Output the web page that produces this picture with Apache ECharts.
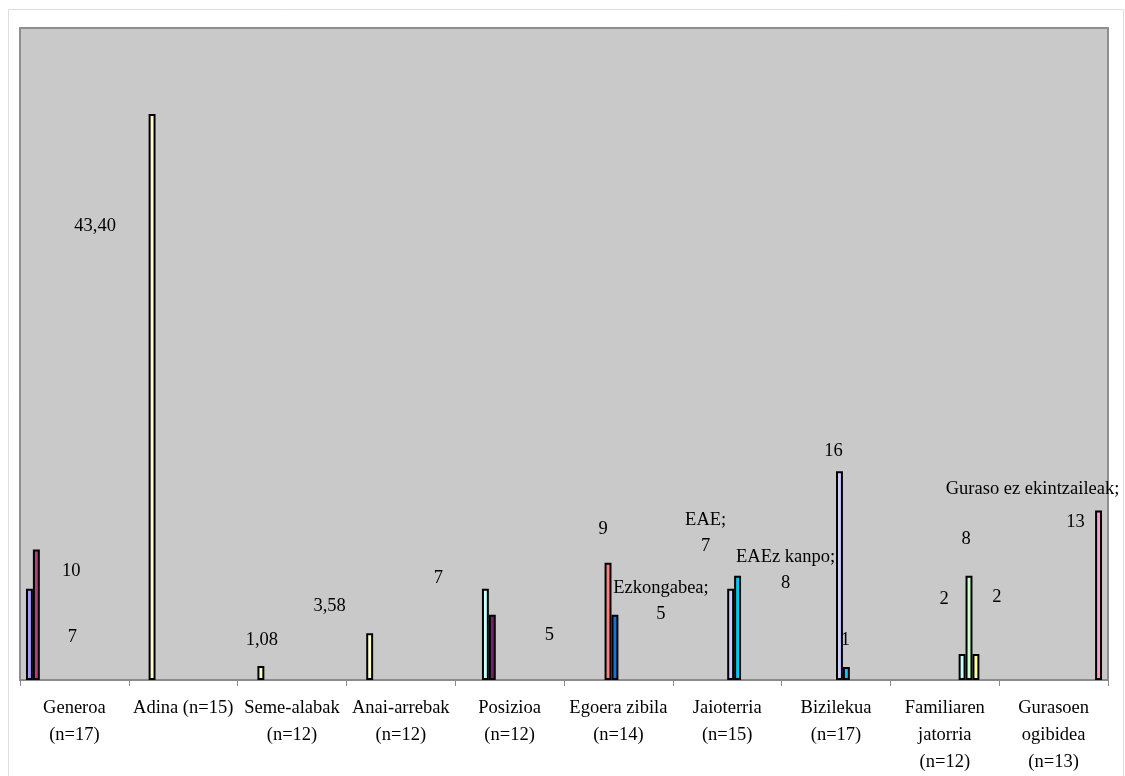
<!DOCTYPE html>
<html>
<head>
<meta charset="utf-8">
<script src="https://cdn.jsdelivr.net/npm/echarts@6/dist/echarts.min.js"></script>
<style>
  html, body { margin: 0; padding: 0; background: #fff; }
  #chart { width: 1125px; height: 776px; }
</style>
</head>
<body>
<div id="chart"></div>
<script>
// Categories along the x axis
const categories = [
  'Generoa\n(n=17)', 'Adina (n=15)', 'Seme-alabak\n(n=12)', 'Anai-arrebak\n(n=12)',
  'Posizioa\n(n=12)', 'Egoera zibila\n(n=14)', 'Jaioterria\n(n=15)', 'Bizilekua\n(n=17)',
  'Familiaren\njatorria\n(n=12)', 'Gurasoen\nogibidea\n(n=13)'
];

// One array per series; null where the series has no value in a category
const generoa1      = [7, null, null, null, null, null, null, null, null, null];
const generoa2      = [10, null, null, null, null, null, null, null, null, null];
const batezbestekoa = [null, 43.40, 1.08, 3.58, null, null, null, null, null, null];
const posizioa1     = [null, null, null, null, 7, null, null, null, null, null];
const posizioa2     = [null, null, null, null, 5, null, null, null, null, null];
const ezkondua      = [null, null, null, null, null, 9, null, null, null, null];
const ezkongabea    = [null, null, null, null, null, 5, null, null, null, null];
const eae           = [null, null, null, null, null, null, 7, 16, null, null];
const eaezKanpo     = [null, null, null, null, null, null, 8, 1, null, null];
const jatorria1     = [null, null, null, null, null, null, null, null, 2, null];
const jatorria2     = [null, null, null, null, null, null, null, null, 8, null];
const jatorria3     = [null, null, null, null, null, null, null, null, 2, null];
const gurasoEkintz  = [null, null, null, null, null, null, null, null, null, null];
const gurasoEzEkintz= [null, null, null, null, null, null, null, null, null, 13];

const FONT = '"Liberation Serif", "DejaVu Serif", serif';
const FS = 18.5;

// value formatting with comma decimals
const fmtInt = v => String(v);
const fmtDec = v => v.toFixed(2).replace('.', ',');

// Series definitions: data, fill colour, label text builder and label offsets per category
const seriesDefs = [
  { name: 'Generoa 1', data: generoa1, color: '#A29EF6', fmt: fmtInt, offsets: { 0: [43, 58] } },
  { name: 'Generoa 2', data: generoa2, color: '#B63C7A', fmt: fmtInt, offsets: { 0: [35, 32] } },
  { name: 'Batezbestekoa', data: batezbestekoa, color: '#FFFFCC', fmt: fmtDec,
    offsets: { 1: [-57, 122], 2: [1, -16], 3: [-40, -17] } },
  { name: 'Posizioa 1', data: posizioa1, color: '#CCFFFF', fmt: fmtInt, offsets: { 4: [-47, -1] } },
  { name: 'Posizioa 2', data: posizioa2, color: '#7C1A78', fmt: fmtInt, offsets: { 4: [57, 30] } },
  { name: 'Ezkondua', data: ezkondua, color: '#FF8080', fmt: fmtInt, offsets: { 5: [-5, -23] } },
  { name: 'Ezkongabea', data: ezkongabea, color: '#1A72D4', withName: true, lineHeight: 26,
    fmt: fmtInt, offsets: { 5: [46, 12] } },
  { name: 'EAE', data: eae, color: '#CCCCFF', fmt: fmtInt, lineHeight: 26,
    withNameAt: [6], offsets: { 6: [-25, -30], 7: [-6, -10] } },
  { name: 'EAEz kanpo', data: eaezKanpo, color: '#00C8F0', fmt: fmtInt, lineHeight: 26,
    withNameAt: [6], offsets: { 6: [48, 20], 7: [-1, -17] } },
  { name: 'Jatorria 1', data: jatorria1, color: '#CCFFFF', fmt: fmtInt, offsets: { 8: [-18, -45] } },
  { name: 'Jatorria 2', data: jatorria2, color: '#CCFFCC', fmt: fmtInt, offsets: { 8: [-3, -27] } },
  { name: 'Jatorria 3', data: jatorria3, color: '#FFFF99', fmt: fmtInt, offsets: { 8: [21, -47] } },
  { name: 'Guraso ekintzaileak', data: gurasoEkintz, color: '#99CCFF', fmt: fmtInt, offsets: {} },
  { name: 'Guraso ez ekintzaileak', data: gurasoEzEkintz, color: '#FF99CC', fmt: fmtInt,
    special: true, offsets: { 9: [-66, 28] } }
];

const series = seriesDefs.map(def => ({
  name: def.name,
  type: 'bar',
  barGap: '0%',
  barCategoryGap: '11%',
  itemStyle: { color: def.color, borderColor: '#000', borderWidth: 2 },
  emphasis: { disabled: true },
  data: def.data.map((v, i) => {
    if (v === null) return null;
    const off = def.offsets[i] || [0, 0];
    const showName = def.withName || (def.withNameAt && def.withNameAt.includes(i));
    const label = {
      show: true,
      position: 'top',
      distance: 0,
      offset: off,
      color: '#000',
      fontFamily: FONT,
      fontSize: FS,
      lineHeight: showName ? (def.lineHeight || 26) : 20
    };
    if (def.special) {
      label.formatter = '{a|' + def.name + ';}\n{b|' + def.fmt(v) + '}';
      label.lineHeight = 33;
      label.rich = {
        a: { fontFamily: FONT, fontSize: FS, color: '#000', lineHeight: 33 },
        b: { fontFamily: FONT, fontSize: FS, color: '#000', lineHeight: 33, padding: [0, 0, 0, 86] }
      };
    } else if (showName) {
      label.formatter = def.name + ';\n' + def.fmt(v);
    } else {
      label.formatter = def.fmt(v);
    }
    return { value: v, label };
  })
}));

const chart = echarts.init(document.getElementById('chart'), null, { renderer: 'canvas' });
chart.setOption({
  animation: false,
  backgroundColor: '#ffffff',
  graphic: [{
    type: 'rect',
    shape: { x: 8.5, y: 9.5, width: 1115, height: 790 },
    style: { fill: 'none', stroke: '#DDDDDD', lineWidth: 1 },
    z: -10
  }],
  grid: {
    left: 20, right: 17, top: 28, bottom: 96,
    show: true,
    backgroundColor: '#C9C9C9',
    borderColor: '#8E8E8E',
    borderWidth: 2
  },
  xAxis: {
    type: 'category',
    data: categories,
    axisLine: { lineStyle: { color: '#8A8A8A', width: 1.5 } },
    axisTick: { show: true, length: 6, lineStyle: { color: '#8A8A8A', width: 1 } },
    axisLabel: {
      interval: 0,
      margin: 15,
      color: '#000',
      fontFamily: FONT,
      fontSize: FS,
      lineHeight: 27
    }
  },
  yAxis: {
    type: 'value',
    min: 0,
    max: 50,
    show: false,
    splitLine: { show: false }
  },
  series
});
</script>
</body>
</html>
